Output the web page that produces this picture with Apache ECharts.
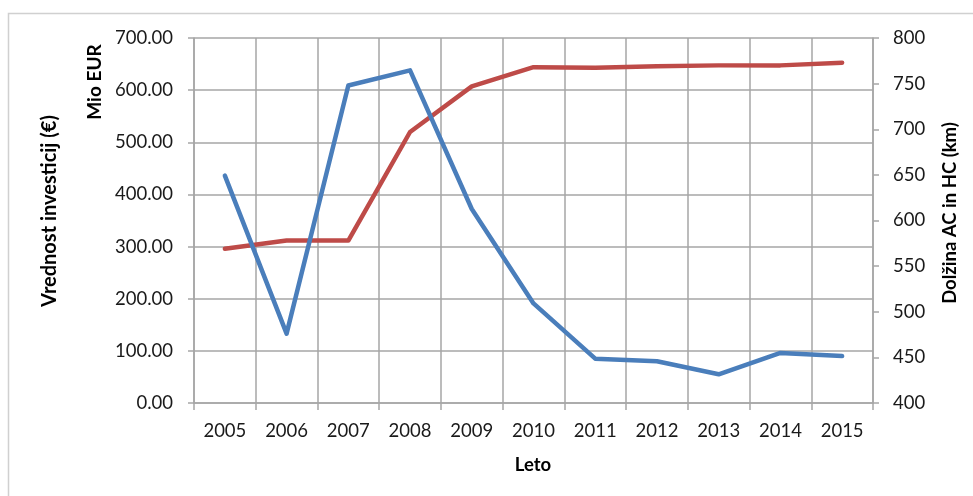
<!DOCTYPE html>
<html>
<head>
<meta charset="utf-8">
<script src="https://cdn.jsdelivr.net/npm/echarts@6/dist/echarts.min.js"></script>
<style>
  html, body { margin: 0; padding: 0; background: #ffffff; }
  #chart { width: 973px; height: 496px; }
</style>
</head>
<body>
<div id="chart"></div>
<script>
// Years on the horizontal axis
const years = ['2005', '2006', '2007', '2008', '2009', '2010', '2011', '2012', '2013', '2014', '2015'];
// Investment value, million EUR (left axis)
const investicije = [436, 133, 609, 638, 372, 191, 85, 80, 55, 96, 90];
// Length of motorways and expressways, km (right axis)
const dolzina = [569, 578, 578, 697, 747, 768, 767.5, 769, 770, 770, 773];

const FONT = 'Lato, "Open Sans", sans-serif';
const GRID = '#a6a6a6';
const TEXT = '#1a1a1a';

const chart = echarts.init(document.getElementById('chart'), null, { renderer: 'canvas' });

chart.setOption({
  animation: false,
  backgroundColor: '#ffffff',
  textStyle: { fontFamily: FONT },
  grid: { left: 194, right: 100, top: 38, bottom: 93, containLabel: false },
  xAxis: {
    type: 'category',
    data: years,
    boundaryGap: true,
    axisLine: { lineStyle: { color: GRID, width: 1.5 } },
    axisTick: { show: true, length: 7, lineStyle: { color: GRID, width: 1.5 } },
    axisLabel: { color: TEXT, fontSize: 18.5, fontFamily: FONT, margin: 19 },
    splitLine: { show: true, lineStyle: { color: GRID, width: 1.5 } }
  },
  yAxis: [
    {
      type: 'value',
      min: 0, max: 700, interval: 100,
      position: 'left',
      axisLine: { show: true, lineStyle: { color: GRID, width: 1.5 } },
      axisTick: { show: true, length: 6, lineStyle: { color: GRID, width: 1.5 } },
      axisLabel: { color: TEXT, fontSize: 18.5, fontFamily: FONT, margin: 21,
        formatter: v => v.toFixed(2) },
      splitLine: { show: true, lineStyle: { color: GRID, width: 1.5 } }
    },
    {
      type: 'value',
      min: 400, max: 800, interval: 50,
      position: 'right',
      axisLine: { show: true, lineStyle: { color: GRID, width: 1.5 } },
      axisTick: { show: true, length: 6, lineStyle: { color: GRID, width: 1.5 } },
      axisLabel: { color: TEXT, fontSize: 18.5, fontFamily: FONT, margin: 20 },
      splitLine: { show: false }
    }
  ],
  series: [
    {
      name: 'Vrednost investicij',
      type: 'line',
      yAxisIndex: 0,
      data: investicije,
      symbol: 'none',
      lineStyle: { color: '#4a7ebb', width: 4.5, cap: 'round', join: 'round' },
      itemStyle: { color: '#4a7ebb' },
      z: 3
    },
    {
      name: 'Dolžina AC in HC',
      type: 'line',
      yAxisIndex: 1,
      data: dolzina,
      symbol: 'none',
      lineStyle: { color: '#be4b48', width: 4.5, cap: 'round', join: 'round' },
      itemStyle: { color: '#be4b48' },
      z: 2
    }
  ],
  graphic: [
    {
      type: 'rect',
      silent: true,
      z: -10,
      shape: { x: 8.5, y: 13.5, width: 1000, height: 1000 },
      style: { fill: 'none', stroke: '#d0d0d0', lineWidth: 1.5 }
    },
    {
      type: 'text',
      x: 95, y: 82, rotation: Math.PI / 2,
      style: { text: 'Mio EUR', font: 'bold 19px ' + FONT, fill: '#000', align: 'center', verticalAlign: 'middle' }
    },
    {
      type: 'text',
      x: 50, y: 211, rotation: Math.PI / 2,
      style: { text: 'Vrednost investicij (€)', font: 'bold 20px ' + FONT, fill: '#000', align: 'center', verticalAlign: 'middle' }
    },
    {
      type: 'text',
      x: 950, y: 213, rotation: Math.PI / 2,
      style: { text: 'Dolžina AC in HC (km)', font: 'bold 18.5px ' + FONT, fill: '#000', align: 'center', verticalAlign: 'middle' }
    },
    {
      type: 'text',
      x: 533, y: 465,
      style: { text: 'Leto', font: 'bold 18.5px ' + FONT, fill: '#000', align: 'center', verticalAlign: 'middle' }
    }
  ]
});
</script>
</body>
</html>
